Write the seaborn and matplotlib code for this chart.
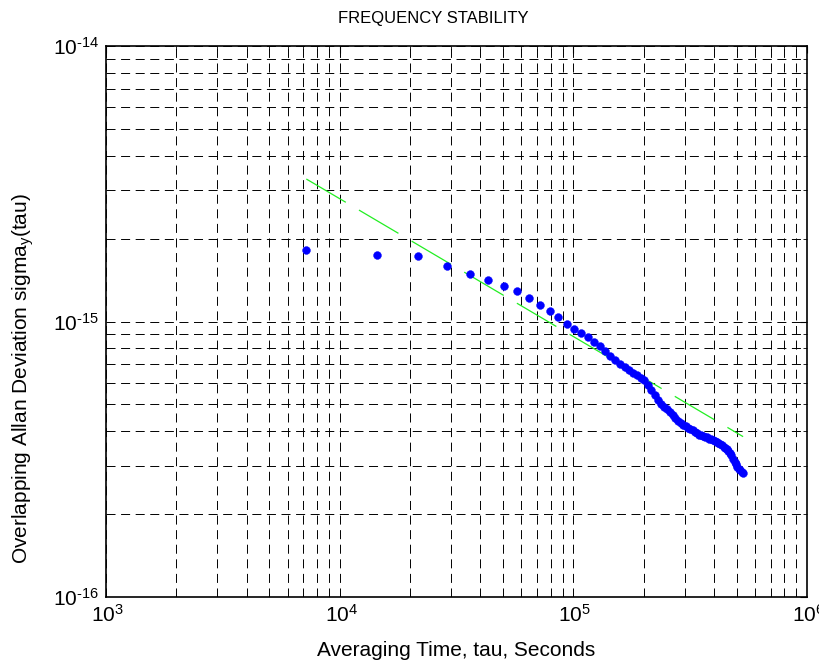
import numpy as np
import pandas as pd
import matplotlib
matplotlib.use("Agg")
import matplotlib.pyplot as plt
import matplotlib.transforms as mtransforms
import seaborn as sns
from matplotlib.ticker import LogLocator, NullFormatter

# ---- data ----
tau0 = 7200.0
n_avg = list(range(1, 75))
sigma_e15 = [
    1.82, 1.75, 1.725, 1.59, 1.49, 1.415, 1.34, 1.29, 1.22, 1.15,
    1.095, 1.04, 0.98, 0.94, 0.905, 0.88, 0.845, 0.813, 0.782, 0.75,
    0.727, 0.701, 0.682, 0.668, 0.652, 0.638, 0.625, 0.613, 0.588, 0.564,
    0.541, 0.521, 0.503, 0.490, 0.480, 0.468, 0.456, 0.446, 0.437, 0.428,
    0.421, 0.416, 0.412, 0.407, 0.403, 0.398, 0.393, 0.388, 0.386, 0.384,
    0.382, 0.380, 0.376, 0.373, 0.371, 0.368, 0.365, 0.361, 0.358, 0.355,
    0.351, 0.347, 0.344, 0.339, 0.333, 0.327, 0.318, 0.310, 0.303, 0.297,
    0.292, 0.288, 0.285, 0.283,
]
fit_tau = [7200.0, 532800.0]
fit_sigma_e15 = [3.29, 0.382]

x_ticks = [1e3, 1e4, 1e5, 1e6]
x_tick_labels = [r"$10^{3}$", r"$10^{4}$", r"$10^{5}$", r"$10^{6}$"]
y_ticks = [1e-16, 1e-15, 1e-14]
y_tick_labels = [r"$10^{\text{-16}}$", r"$10^{\text{-15}}$", r"$10^{\text{-14}}$"]

title_text = "FREQUENCY STABILITY"
x_label = "Averaging Time, tau, Seconds"
y_label = r"Overlapping Allan Deviation sigma$_{y}$(tau)"

df = pd.DataFrame({"tau": np.array(n_avg) * tau0,
                   "sigma": np.array(sigma_e15) * 1e-15})
fit_df = pd.DataFrame({"tau": fit_tau, "sigma": np.array(fit_sigma_e15) * 1e-15})

# ---- style ----
sns.set_style("white")
plt.rcParams["font.family"] = ["Liberation Sans", "DejaVu Sans"]
plt.rcParams["mathtext.fontset"] = "custom"
plt.rcParams["mathtext.rm"] = "Liberation Sans"
plt.rcParams["mathtext.it"] = "Liberation Sans"
plt.rcParams["mathtext.default"] = "regular"
plt.rcParams["lines.scale_dashes"] = False
for k in ["text.color", "axes.labelcolor", "xtick.color", "ytick.color", "axes.edgecolor"]:
    plt.rcParams[k] = "black"

fig = plt.figure(figsize=(8.19, 6.62), dpi=100)
ax = fig.add_axes([106 / 819, 1 - 597 / 662, (807 - 106) / 819, (597 - 46) / 662])

ax.set_xscale("log")
ax.set_yscale("log")
ax.set_xlim(1e3, 1e6)
ax.set_ylim(1e-16, 1e-14)

# grid
ax.set_axisbelow(True)
ax.xaxis.set_minor_locator(LogLocator(base=10, subs=np.arange(2, 10), numticks=20))
ax.yaxis.set_minor_locator(LogLocator(base=10, subs=np.arange(2, 10), numticks=20))
ax.xaxis.set_minor_formatter(NullFormatter())
ax.yaxis.set_minor_formatter(NullFormatter())
ax.grid(True, which="both", color="black", linewidth=0.7, linestyle=(0, (6.5, 4.0)))

sns.lineplot(data=fit_df, x="tau", y="sigma", ax=ax, color="#22ee22",
             linewidth=0.9, linestyle=(0, (33, 11)), zorder=3)
sns.scatterplot(data=df, x="tau", y="sigma", ax=ax, color="#0000ff",
                edgecolor="#0000ff", s=32, linewidth=0.3, zorder=4)

ax.set_xticks(x_ticks)
ax.set_xticklabels(x_tick_labels)
ax.set_yticks(y_ticks)
ax.set_yticklabels(y_tick_labels)
ax.tick_params(axis="both", which="major", direction="in", length=5, width=0.8,
               top=True, right=True, labelsize=15, pad=5, color="black")
ax.tick_params(axis="both", which="minor", direction="in", length=3, width=0.6,
               top=True, right=True, color="black")

# nudge x tick labels slightly right, as in the reference
offset = mtransforms.ScaledTranslation(1.5 / 100, 0, fig.dpi_scale_trans)
for lab in ax.get_xticklabels():
    lab.set_transform(lab.get_transform() + offset)

for s in ax.spines.values():
    s.set_color("black")
    s.set_linewidth(1.2)
    s.set_visible(True)

fig.text(433 / 819, 1 - 18 / 662, title_text, fontsize=12, ha="center", va="center")
ax.set_xlabel(x_label, fontsize=15, labelpad=11)
ax.set_ylabel(y_label, fontsize=15)
ax.yaxis.set_label_coords((36 - 106) / 701, 1 - (379 - 46) / 551)

fig.savefig("out.png", dpi=100)
